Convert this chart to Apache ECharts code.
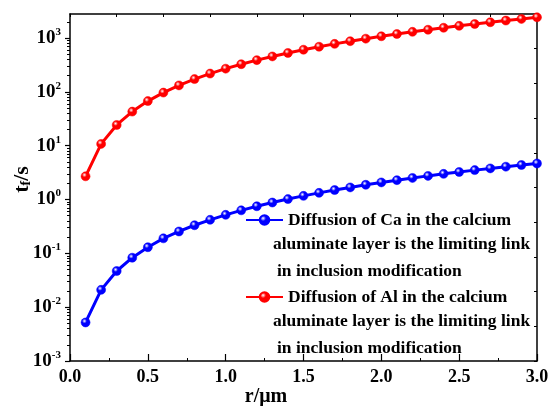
<!DOCTYPE html>
<html>
<head>
<meta charset="utf-8">
<script src="https://cdn.jsdelivr.net/npm/echarts@6/dist/echarts.min.js"></script>
<style>html,body{margin:0;padding:0;background:#fff;}#c{width:549px;height:406px;}</style>
</head>
<body>
<div id="c"></div>
<script>
// ---- data ----
const radii = [0.1,0.2,0.3,0.4,0.5,0.6,0.7,0.8,0.9,1.0,1.1,1.2,1.3,1.4,1.5,1.6,1.7,1.8,1.9,2.0,2.1,2.2,2.3,2.4,2.5,2.6,2.7,2.8,2.9,3.0];
const tCa = [0.0052,0.021,0.047,0.083,0.13,0.19,0.255,0.333,0.42,0.52,0.63,0.75,0.88,1.02,1.17,1.33,1.50,1.68,1.88,2.08,2.29,2.52,2.75,3.0,3.25,3.52,3.79,4.08,4.38,4.68];
const tAl = [2.7,10.8,24.3,43,67.5,97,132,173,219,270,327,389,456,529,608,691,780,875,975,1080,1190,1307,1428,1555,1688,1825,1968,2117,2271,2430];
const xTicks = ['0.0','0.5','1.0','1.5','2.0','2.5','3.0'];
const yDecades = [-3,-2,-1,0,1,2,3];
const nameCa = 'Diffusion of Ca in the calcium';
const nameAl = 'Diffusion of Al in the calcium';
const nameCont = ['aluminate layer is the limiting link', 'in inclusion modification'];

const FONT = '"Liberation Serif","Times New Roman",serif';
const LFS = 17.5;
const minorVals = [];
yDecades.forEach(e => { for (let k = 2; k <= 9; k++) { const v = k * Math.pow(10, e); if (v <= 2800) minorVals.push(v); } });
const majorVals = yDecades.map(e => Math.pow(10, e));

function ball(c) {
  return { type: 'radial', x: 0.38, y: 0.35, r: 0.7,
    colorStops: [{offset: 0, color: '#ffffff'}, {offset: 0.35, color: c}, {offset: 1, color: c}] };
}

const chart = echarts.init(document.getElementById('c'), null, {renderer: 'canvas'});
chart.setOption({
  animation: false,
  backgroundColor: '#fff',
  grid: {left: 70, right: 12, top: 14, bottom: 45, containLabel: false, outerBoundsMode: 'none'},
  xAxis: [{
    type: 'value', min: 0, max: 3, interval: 0.5, position: 'bottom',
    axisLine: {lineStyle: {color: '#000', width: 1.5}},
    axisTick: {inside: true, length: 7, lineStyle: {color: '#000', width: 1.2}},
    minorTick: {show: true, splitNumber: 2, length: 3, lineStyle: {color: '#000', width: 1}},
    splitLine: {show: false},
    axisLabel: {color: '#000', fontFamily: FONT, fontWeight: 'bold', fontSize: 18, margin: 7,
      formatter: v => xTicks[Math.round(v / 0.5)]},
    name: 'r/\u03bcm', nameLocation: 'middle', nameGap: 26, nameMoveOverlap: false,
    nameTextStyle: {color: '#000', fontFamily: FONT, fontWeight: 'bold', fontSize: 20, padding: [0, 75, 0, 0]}
  }, {
    type: 'value', min: 0, max: 3, interval: 0.3, position: 'top',
    axisLine: {show: true, onZero: false, lineStyle: {color: '#000', width: 1.5}},
    axisTick: {inside: true, length: 3, lineStyle: {color: '#000', width: 1}},
    axisLabel: {show: false}, splitLine: {show: false}
  }],
  yAxis: [{
    type: 'log', logBase: 10, min: 0.001, max: 2800, position: 'left',
    axisLine: {show: true, lineStyle: {color: '#000', width: 1.5}},
    axisTick: {show: true, inside: false, length: 5, customValues: majorVals, lineStyle: {color: '#000', width: 1.2}},
    splitLine: {show: false},
    axisLabel: {color: '#000', fontFamily: FONT, fontWeight: 'bold', fontSize: 18, margin: 9,
      customValues: majorVals,
      formatter: v => '{b|10}{s|' + Math.round(Math.log10(v)) + '}',
      rich: {b: {fontFamily: FONT, fontWeight: 'bold', fontSize: 19, color: '#000'},
             s: {fontFamily: FONT, fontWeight: 'bold', fontSize: 11, color: '#000', padding: [0, 0, 12, 0]}}},
    name: '{t|t}{f|f}{t|/s}', nameLocation: 'middle', nameGap: 37, nameMoveOverlap: false,
    nameTextStyle: {padding: [0, 0, 0, 16],
      rich: {t: {fontFamily: FONT, fontWeight: 'bold', fontSize: 22, color: '#000'},
             f: {fontFamily: FONT, fontWeight: 'bold', fontSize: 14, color: '#000', padding: [8, 0, 0, 0]}}}
  }, {
    type: 'log', logBase: 10, min: 0.001, max: 2800, position: 'left', offset: 0,
    axisLine: {show: false},
    axisTick: {show: true, inside: false, length: 3, customValues: minorVals, lineStyle: {color: '#000', width: 1}},
    axisLabel: {show: false}, splitLine: {show: false}
  }, {
    type: 'value', min: 0, max: 10, interval: 1, position: 'right',
    axisLine: {show: true, onZero: false, lineStyle: {color: '#000', width: 1.5}},
    axisTick: {show: true, inside: true, length: 3, lineStyle: {color: '#000', width: 1}},
    axisLabel: {show: false}, splitLine: {show: false}
  }],
  legend: {
    orient: 'vertical', left: 245, top: 210, itemWidth: 37, itemHeight: 12, itemGap: 57,
    padding: 0,
    textStyle: {color: '#000', fontFamily: FONT, fontWeight: 'bold', fontSize: LFS, lineHeight: 20, padding: [0, 0, 0, 0]},
    data: [nameCa, nameAl]
  },
  graphic: [
    {type: 'text', left: 273, top: 235, style: {text: nameCont[0], font: 'bold ' + LFS + 'px ' + FONT, fill: '#000'}},
    {type: 'text', left: 277, top: 262, style: {text: nameCont[1], font: 'bold ' + LFS + 'px ' + FONT, fill: '#000'}},
    {type: 'text', left: 273, top: 312, style: {text: nameCont[0], font: 'bold ' + LFS + 'px ' + FONT, fill: '#000'}},
    {type: 'text', left: 277, top: 339, style: {text: nameCont[1], font: 'bold ' + LFS + 'px ' + FONT, fill: '#000'}}
  ],
  series: [{
    name: nameCa, type: 'line', xAxisIndex: 0, yAxisIndex: 0,
    data: radii.map((r, i) => [r, tCa[i]]),
    symbol: 'circle', symbolSize: 9,
    lineStyle: {color: '#0000ff', width: 3},
    itemStyle: {color: ball('#0000ff'), borderColor: '#0000ff', borderWidth: 0.5}
  }, {
    name: nameAl, type: 'line', xAxisIndex: 0, yAxisIndex: 0,
    data: radii.map((r, i) => [r, tAl[i]]),
    symbol: 'circle', symbolSize: 9,
    lineStyle: {color: '#ff0000', width: 3},
    itemStyle: {color: ball('#ff0000'), borderColor: '#ff0000', borderWidth: 0.5}
  }]
});
</script>
</body>
</html>
